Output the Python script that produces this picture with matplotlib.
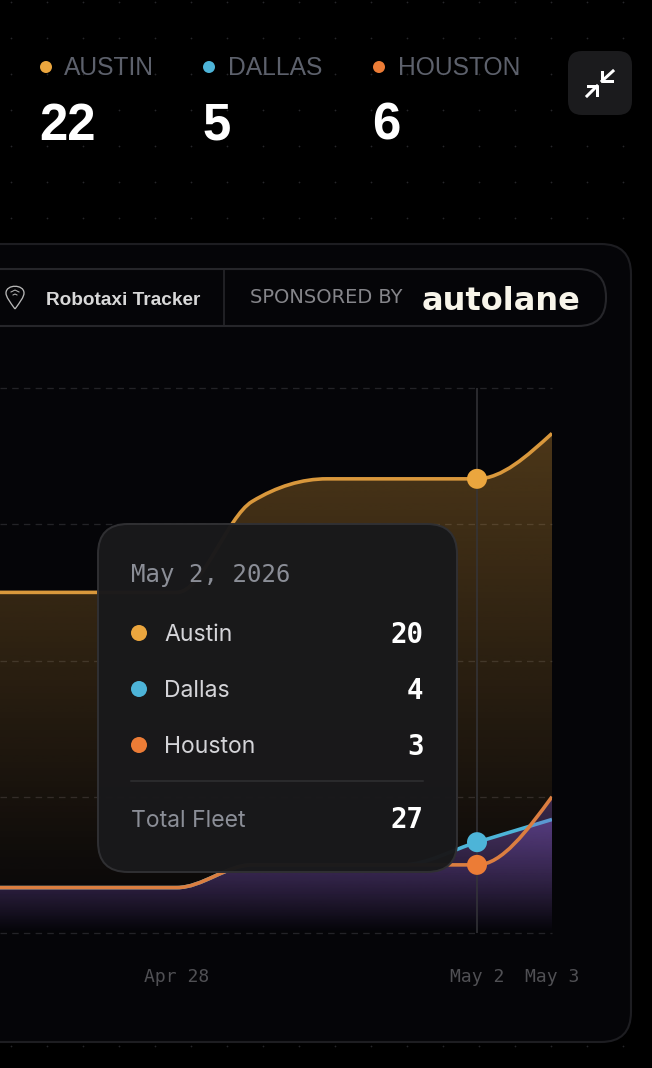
#!/usr/bin/env python
# -*- coding: utf-8 -*-

import numpy as np
import matplotlib
matplotlib.use('Agg')
import matplotlib.pyplot as plt
import matplotlib.dates as mdates
from matplotlib.path import Path
from matplotlib.patches import PathPatch, FancyBboxPatch, Circle
from datetime import date

# data, one value per day
days = [date(2026, 4, 24), date(2026, 4, 25), date(2026, 4, 26), date(2026, 4, 27), date(2026, 4, 28),
        date(2026, 4, 29), date(2026, 4, 30), date(2026, 5, 1), date(2026, 5, 2), date(2026, 5, 3)]
austin = [15, 15, 15, 15, 15, 19, 20, 20, 20, 22]
dallas = [2, 2, 2, 2, 2, 3, 3, 3, 4, 5]
houston = [2, 2, 2, 2, 2, 3, 3, 3, 3, 6]

cities = ['AUSTIN', 'DALLAS', 'HOUSTON']
latest = ['22', '5', '6']
tip_date = 'May 2, 2026'
tip_names = ['Austin', 'Dallas', 'Houston']
tip_values = ['20', '4', '3']
tip_total = '27'
tick_days = [date(2026, 4, 28), date(2026, 5, 2), date(2026, 5, 3)]
tick_names = ['Apr 28', 'May 2', 'May 3']
y_ticks = [0, 6, 12, 18, 24]
hover_day = date(2026, 5, 2)

ORANGE = '#EBA63E'
BLUE = '#4DB4D8'
RED = '#EC7C36'
SANS = 'Liberation Sans'
MONO = 'DejaVu Sans Mono'


def px(size):
    return size * 0.72


def monotone_path(xs, ys, close_at=None):
    # same idea as d3 curveMonotoneX, bezier segments through the daily values
    xs = np.array(xs, dtype=float)
    ys = np.array(ys, dtype=float)
    h = np.diff(xs)
    s = np.diff(ys) / h
    t = np.zeros(len(xs))
    for i in range(1, len(xs) - 1):
        if s[i - 1] * s[i] > 0:
            p = (s[i - 1] * h[i] + s[i] * h[i - 1]) / (h[i - 1] + h[i])
            t[i] = (np.sign(s[i - 1]) + np.sign(s[i])) * min(abs(s[i - 1]), abs(s[i]), 0.5 * abs(p))
    t[0] = (3 * s[0] - t[1]) / 2
    t[-1] = (3 * s[-1] - t[-2]) / 2
    verts = [(xs[0], ys[0])]
    codes = [Path.MOVETO]
    for i in range(len(h)):
        d = h[i] / 3
        verts += [(xs[i] + d, ys[i] + d * t[i]), (xs[i + 1] - d, ys[i + 1] - d * t[i + 1]), (xs[i + 1], ys[i + 1])]
        codes += [Path.CURVE4] * 3
    if close_at is not None:
        verts += [(xs[-1], close_at), (xs[0], close_at), (xs[0], ys[0])]
        codes += [Path.LINETO, Path.LINETO, Path.CLOSEPOLY]
    return Path(verts, codes)


def gradient_fill(ax, xs, ys, color, top_alpha, top_value, z):
    rgba = np.zeros((256, 1, 4))
    rgba[:, 0, :3] = matplotlib.colors.to_rgb(color)
    rgba[:, 0, 3] = np.linspace(top_alpha, 0, 256)
    im = ax.imshow(rgba, extent=(xs[0], xs[-1], 0, top_value), origin='upper', aspect='auto', zorder=z)
    im.set_clip_path(PathPatch(monotone_path(xs, ys, close_at=0), transform=ax.transData))


fig = plt.figure(figsize=(6.52, 10.68), dpi=100, facecolor='#000000')

# background: dots and panel, in pixels
bg = fig.add_axes([0, 0, 1, 1], zorder=0)
bg.set_xlim(0, 652)
bg.set_ylim(1068, 0)
bg.axis('off')
dot_x, dot_y = np.meshgrid(np.arange(11, 652, 36), np.arange(1.7, 1068, 36))
bg.scatter(dot_x.ravel(), dot_y.ravel(), s=1.6, c='#26262a', linewidths=0)
bg.add_patch(FancyBboxPatch((-60, 244), 691, 798, boxstyle='round,pad=0,rounding_size=30',
                            fc='#050508', ec='#1d1d21', lw=1.5))
bg.add_patch(FancyBboxPatch((-60, 269), 666, 57, boxstyle='round,pad=0,rounding_size=28',
                            fc='#050508', ec='#26262a', lw=1.5))
bg.plot([224, 224], [269, 326], color='#26262a', lw=1.2)

# the chart
ax = fig.add_axes([0, (1068 - 933) / 1068, 552 / 652, 545 / 1068], zorder=1)
ax.patch.set_alpha(0)
x = mdates.date2num(days)
hover = mdates.date2num(hover_day)

gradient_fill(ax, x, austin, ORANGE, 0.31, 22, 1)
gradient_fill(ax, x, dallas, '#7d56c4', 0.56, 6, 2)
gradient_fill(ax, x, houston, '#7d56c4', 0.36, 6, 4)

ax.add_patch(PathPatch(monotone_path(x, austin), fc='none', ec='#D9983C', lw=px(3.6), zorder=2.5, capstyle='butt'))
ax.add_patch(PathPatch(monotone_path(x, dallas), fc='none', ec=BLUE, lw=px(3.6), zorder=3, capstyle='butt'))
ax.add_patch(PathPatch(monotone_path(x, houston), fc='none', ec='#DB7E40', lw=px(3.6), zorder=5, capstyle='butt'))

ax.axvline(hover, color='#35353a', lw=px(1.5), zorder=6)
i = days.index(hover_day)
ax.scatter([hover] * 3, [austin[i], dallas[i], houston[i]], s=px(20) ** 2, c=[ORANGE, BLUE, RED], linewidths=0,
           zorder=7, clip_on=False)

ax.set_xlim(hover - 477 / 75, hover + 1)
ax.set_ylim(0, 24)
ax.set_yticks(y_ticks)
ax.set_xticks(mdates.date2num(tick_days))
ax.set_xticklabels(tick_names, family=MONO, fontsize=px(18), color='#505054')
ax.tick_params(axis='x', length=0, pad=px(35))
ax.tick_params(axis='y', length=0, labelleft=False)
ax.grid(axis='y', color='#232327', lw=px(1.3), linestyle=(0, (5, 4)))
ax.set_axisbelow(True)
for g in ax.get_ygridlines():
    g.set_clip_on(False)
for s in ax.spines.values():
    s.set_visible(False)

# header, button, pill and tooltip on top, in pixels
top = fig.add_axes([0, 0, 1, 1], zorder=2)
top.set_xlim(0, 652)
top.set_ylim(1068, 0)
top.axis('off')
top.patch.set_alpha(0)

for name, val, col, dx, lx, vx in zip(cities, latest, [ORANGE, BLUE, RED], [46, 209, 379], [64, 228, 398], [39, 203, 372]):
    top.add_patch(Circle((dx, 67), 6, fc=col, ec='none'))
    top.text(lx, 75, name, family=SANS, fontsize=px(24.6), color='#5d616c', va='baseline')
    top.text(vx, 140, val, family=SANS, weight='bold', fontsize=px(51), color='white', va='baseline')

top.add_patch(FancyBboxPatch((568, 51), 64, 64, boxstyle='round,pad=0,rounding_size=14', fc='#1b1b1d', ec='none'))
top.plot([613, 602], [71, 81], color='white', lw=px(3))
top.plot([602, 602, 612], [72, 81, 81], color='white', lw=px(3))
top.plot([587, 597], [96, 86], color='white', lw=px(3))
top.plot([588, 597, 597], [86, 86, 95], color='white', lw=px(3))

# location pin
pin = Path([(15, 309), (10, 302), (6, 297), (6, 293), (6, 284), (24, 284), (24, 293), (24, 297), (20, 302), (15, 309)],
           [Path.MOVETO, Path.CURVE4, Path.CURVE4, Path.CURVE4, Path.CURVE4, Path.CURVE4, Path.CURVE4,
            Path.CURVE4, Path.CURVE4, Path.CURVE4])
top.add_patch(PathPatch(pin, fc='none', ec='#b8b8b8', lw=px(1.3)))
top.plot([11, 15, 19], [292, 290, 292], color='#b8b8b8', lw=px(1))
top.plot([13, 15, 17], [295, 294, 295], color='#b8b8b8', lw=px(1))

top.text(46, 305, 'Robotaxi Tracker', family=SANS, weight='bold', fontsize=px(19), color='#d8d8d8', va='baseline')
top.text(250, 303, 'SPONSORED BY', family='DejaVu Sans', fontsize=px(19.4), color='#85858a', va='baseline')
top.text(422, 310, 'autolane', family='DejaVu Sans', weight='bold', fontsize=px(32), color='#f8f5ea', va='baseline')

top.add_patch(FancyBboxPatch((98, 524), 359, 348, boxstyle='round,pad=0,rounding_size=30',
                             fc='#19191b', ec='#303033', lw=px(2), alpha=0.98))
top.text(131, 582, tip_date, family=MONO, fontsize=px(24), color='#8b8e97', va='baseline')
for name, val, col, yy in zip(tip_names, tip_values, [ORANGE, BLUE, RED], [633, 689, 745]):
    top.add_patch(Circle((139, yy), 8, fc=col, ec='none'))
    top.text(164, yy + 8, name, family='Inter', fontsize=px(23), color='#d4d4d8', va='baseline')
    top.text(423.5, yy + 10, val, family=MONO, weight='bold', fontsize=px(27.5), color='white', va='baseline', ha='right')
top.plot([131, 423], [781, 781], color='#303033', lw=px(1.5))
top.text(131, 827, 'Total Fleet', family='Inter', fontsize=px(23), color='#8b8e97', va='baseline')
top.text(423.5, 828, tip_total, family=MONO, weight='bold', fontsize=px(27.5), color='white', va='baseline', ha='right')

fig.savefig('out.png', dpi=100, facecolor=fig.get_facecolor())
